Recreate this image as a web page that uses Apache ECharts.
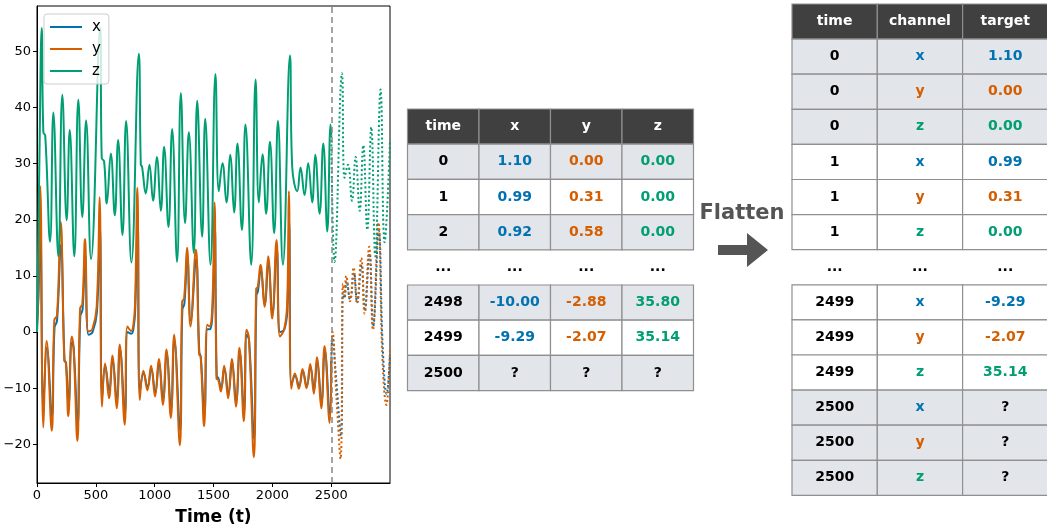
<!DOCTYPE html>
<html>
<head>
<meta charset="utf-8">
<script src="https://cdn.jsdelivr.net/npm/echarts@6/dist/echarts.min.js"></script>
<style>
html, body { margin: 0; padding: 0; background: #fff; }
#main { width: 1047px; height: 531px; }
</style>
</head>
<body>
<div id="main"></div>
<script>
var FONT = 'DejaVu Sans';
var colX = '#0072B2', colY = '#D55E00', colZ = '#009E73';

// series: [time, value]
var xHist = [[0,1.1],[12,6],[28,18],[54,-13],[84,-2.8],[127,-15],[149,0.8],[170,2],[203,15.5],[234,-5],[247,-5.5],[268,-13],[297,-1.8],[312,-3],[345,-16.5],[368,2.8],[387,4],[410,13.8],[438,-0.5],[472,0],[509,3.5],[534,19],[554,-11.5],[580,-6],[614,-10.5],[642,-5],[679,-12],[705,-3],[747,-14.5],[770,0],[802,-0.3],[822,1],[835,4.3],[855,20],[875,-10.5],[906,-7.3],[940,-9.8],[971,-6.5],[1005,-10.8],[1037,-5.5],[1071,-12],[1102,-4],[1139,-13.8],[1167,-1.5],[1215,-17.5],[1235,4],[1252,5],[1277,13.5],[1306,2],[1351,13],[1379,-3.5],[1392,-4.5],[1422,-14.8],[1448,0.5],[1467,0.5],[1492,4],[1510,19],[1527,-7.8],[1542,-8.3],[1564,-10],[1592,-6.5],[1626,-11],[1657,-5.5],[1692,-12.3],[1722,-3.6],[1759,-14.2],[1782,-0.5],[1802,-1.5],[1844,-19],[1864,6.5],[1877,7.3],[1901,11],[1935,5],[1966,12.3],[2000,3.2],[2037,14.8],[2066,0],[2102,0.5],[2127,4],[2142,20],[2162,-9.5],[2193,-7.8],[2227,-9.6],[2258,-7],[2292,-9.6],[2323,-6.2],[2354,-10.3],[2380,-5.2],[2417,-12.4],[2445,-3.3],[2488,-14.6],[2500,-5.5]];
var yHist = [[0,0],[12,8],[28,26],[54,-17],[82,-1.6],[125,-17.6],[147,2.1],[170,3],[201,19.6],[232,-5.1],[245,-5.5],[266,-15],[295,-0.8],[310,-2.5],[343,-19.4],[366,4.2],[385,5],[408,16.6],[436,0.1],[470,0.5],[507,4.5],[532,24],[552,-13.3],[578,-5.6],[612,-11.8],[640,-4.2],[677,-13.6],[703,-2.2],[745,-16.5],[768,1],[800,0.2],[820,1.5],[833,5.1],[853,25.7],[873,-12.1],[904,-6.9],[938,-10.4],[969,-6],[1003,-11.5],[1035,-4.8],[1069,-13],[1100,-3.1],[1137,-15.3],[1165,-0.5],[1213,-20.2],[1233,5.4],[1250,6],[1275,15],[1304,1],[1349,14.7],[1377,-4],[1390,-4.3],[1420,-16.8],[1446,1.3],[1465,1],[1490,5],[1508,23.1],[1525,-8.3],[1540,-8.5],[1562,-10.6],[1590,-6],[1624,-11.8],[1655,-4.8],[1690,-13.3],[1720,-2.8],[1757,-15.9],[1780,0.4],[1800,-1],[1842,-22.3],[1862,7.7],[1875,8],[1899,12],[1933,4.5],[1964,13.5],[1998,2.4],[2035,16.4],[2064,-0.8],[2100,0.5],[2125,5],[2140,25.1],[2160,-10.1],[2191,-7.4],[2225,-10.1],[2256,-6.6],[2290,-10],[2321,-5.7],[2352,-11],[2378,-4.5],[2415,-13.6],[2443,-2.5],[2486,-16.2],[2500,-5]];
var zHist = [[0,0],[20,30],[40,54.2],[54,35.6],[70,35],[111,16.1],[139,39.1],[181,13.5],[215,42.3],[252,19.9],[278,36],[317,13.5],[351,41.4],[385,20.5],[417,37.7],[459,13],[536,54.3],[550,31],[570,30.4],[593,22.9],[627,31.8],[661,20.8],[689,34.2],[726,17.3],[757,37.6],[802,12.4],[865,49.6],[882,29.8],[892,29.5],[924,24.7],[955,29.8],[986,23.4],[1018,31.2],[1052,21.6],[1080,33],[1117,18.7],[1148,36.2],[1190,12.5],[1222,42.6],[1258,19.4],[1290,35.6],[1332,14.1],[1361,41.2],[1403,17],[1429,38],[1474,12],[1516,46],[1545,25.1],[1576,30.1],[1610,23.1],[1641,31.6],[1675,21.3],[1703,33.6],[1741,18.2],[1771,37],[1820,12],[1857,45],[1885,23.1],[1916,31.7],[1947,21.1],[1979,33.9],[2015,17.6],[2047,37.6],[2089,12],[2149,49.3],[2168,29.5],[2211,25.1],[2239,29.3],[2273,24.4],[2304,30.1],[2338,23.1],[2364,31.6],[2401,21.1],[2432,33.6],[2466,17.9],[2494,37],[2500,35]];

// forecast part after t = 2500 (dotted)
var xFore = [[2500,-5.5],[2510,-1],[2540,-8],[2582,-18.5],[2600,7],[2612,6],[2630,9],[2660,5.8],[2693,10.5],[2720,5.3],[2757,12],[2785,3.8],[2825,14],[2856,1],[2903,18],[2938,-3],[2970,-11],[2999,-4]];
var yFore = [[2500,-5],[2510,0],[2545,-12],[2579,-22.6],[2599,8.6],[2612,6.5],[2627,10],[2660,5.5],[2690,11.5],[2718,5.1],[2755,13.2],[2783,3.3],[2822,15.2],[2854,0.4],[2900,19.5],[2935,-5],[2968,-13],[2999,-3]];
var zFore = [[2500,35],[2528,12.5],[2591,46.1],[2613,27.5],[2642,29.8],[2676,23.4],[2707,31.2],[2741,21.6],[2772,33.3],[2806,18.2],[2840,36.5],[2874,13.5],[2919,43.2],[2953,16],[2999,34]];

var valueTicks = [-20, -10, 0, 10, 20, 30, 40, 50];
var timeTicks = [0, 500, 1000, 1500, 2000, 2500];
var cutoff = 2500;

// wide table
var wideHeader = ['time', 'x', 'y', 'z'];
var wideTime = ['0', '1', '2', '...', '2498', '2499', '2500'];
var wideX = ['1.10', '0.99', '0.92', '...', '-10.00', '-9.29', '?'];
var wideY = ['0.00', '0.31', '0.58', '...', '-2.88', '-2.07', '?'];
var wideZ = ['0.00', '0.00', '0.00', '...', '35.80', '35.14', '?'];

// long (flattened) table
var longHeader = ['time', 'channel', 'target'];
var longTime = ['0', '0', '0', '1', '1', '1', '...', '2499', '2499', '2499', '2500', '2500', '2500'];
var longChannel = ['x', 'y', 'z', 'x', 'y', 'z', '...', 'x', 'y', 'z', 'x', 'y', 'z'];
var longTarget = ['1.10', '0.00', '0.00', '0.99', '0.31', '0.00', '...', '-9.29', '-2.07', '35.14', '?', '?', '?'];

var chanColor = { x: colX, y: colY, z: colZ };
var GRAY = '#e2e5ea', HEAD = '#404040', LINE = '#8f8f8f';

function cellRect(x, y, w, h, fill) {
  return { type: 'rect', silent: true, shape: { x: x, y: y, width: w, height: h },
    style: { fill: fill, stroke: LINE, lineWidth: 1.2 } };
}
function cellText(cx, cy, txt, color) {
  return { type: 'text', silent: true, z: 10,
    style: { x: cx, y: cy, text: txt, fill: color, align: 'center', verticalAlign: 'middle',
      font: 'bold 14px "' + FONT + '"' } };
}

function buildTable(left, top, colW, rowH, header, cols, colorFns) {
  var els = [];
  header.forEach(function (h, c) {
    els.push(cellRect(left + c * colW, top, colW, rowH, HEAD));
    els.push(cellText(left + c * colW + colW / 2, top + rowH / 2, h, '#fff'));
  });
  var n = cols[0].length;
  for (var r = 0; r < n; r++) {
    var y = top + (r + 1) * rowH;
    var t = cols[0][r];
    var isDots = t === '...';
    var fill = (parseInt(t, 10) % 2 === 0) ? GRAY : '#fff';
    for (var c = 0; c < cols.length; c++) {
      var x = left + c * colW;
      if (!isDots) els.push(cellRect(x, y, colW, rowH, fill));
      els.push(cellText(x + colW / 2, y + rowH / 2, cols[c][r], isDots ? '#000' : colorFns[c](r)));
    }
  }
  return els;
}

var graphics = [];
graphics = graphics.concat(buildTable(407.5, 109, 71.5, 35.2, wideHeader,
  [wideTime, wideX, wideY, wideZ],
  [function () { return '#000'; },
   function (r) { return wideX[r] === '?' ? '#000' : colX; },
   function (r) { return wideY[r] === '?' ? '#000' : colY; },
   function (r) { return wideZ[r] === '?' ? '#000' : colZ; }]));
graphics = graphics.concat(buildTable(792, 4, 85.3, 35.1, longHeader,
  [longTime, longChannel, longTarget],
  [function () { return '#000'; },
   function (r) { return chanColor[longChannel[r]]; },
   function (r) { return longTarget[r] === '?' ? '#000' : chanColor[longChannel[r]]; }]));

// arrow + label
graphics.push({ type: 'text', silent: true,
  style: { x: 742, y: 214, text: 'Flatten', fill: '#555', align: 'center', verticalAlign: 'middle',
    font: 'bold 21px "' + FONT + '"' } });
graphics.push({ type: 'polygon', silent: true,
  shape: { points: [[718, 245], [747, 245], [747, 233], [768, 250], [747, 267], [747, 255], [718, 255]] },
  style: { fill: '#555' } });

var myChart = echarts.init(document.getElementById('main'));

var option = {
  animation: false,
  backgroundColor: '#fff',
  grid: { left: 37, top: 6, width: 353, height: 487, show: true, borderColor: '#000', borderWidth: 1 },
  legend: {
    data: ['x', 'y', 'z'],
    orient: 'vertical', left: 44, top: 14,
    icon: 'rect', itemWidth: 32, itemHeight: 2, itemGap: 6,
    padding: [5, 8, 5, 6],
    backgroundColor: 'rgba(255,255,255,0.8)', borderColor: '#ccc', borderWidth: 1, borderRadius: 3,
    textStyle: { fontFamily: FONT, fontSize: 15, color: '#000', lineHeight: 16, padding: [0, 0, 0, 5] }
  },
  xAxis: {
    type: 'value', min: 0, max: 2999, interval: 500,
    name: 'Time (t)', nameLocation: 'middle', nameGap: 26,
    nameTextStyle: { fontFamily: FONT, fontSize: 17, fontWeight: 'bold', color: '#000' },
    axisLine: { show: true, onZero: false, lineStyle: { color: '#000', width: 1 } },
    axisTick: { show: true, length: 4, lineStyle: { color: '#000' }, customValues: timeTicks },
    axisLabel: { fontFamily: FONT, fontSize: 13, color: '#000', margin: 6, customValues: timeTicks,
      formatter: function (v) { return String(v); } },
    splitLine: { show: false }
  },
  yAxis: {
    type: 'value', min: -26.9, max: 58.1,
    axisLine: { show: true, onZero: false, lineStyle: { color: '#000', width: 1 } },
    axisTick: { show: true, length: 4, lineStyle: { color: '#000' }, customValues: valueTicks },
    axisLabel: { fontFamily: FONT, fontSize: 13, color: '#000', margin: 6, customValues: valueTicks,
      formatter: function (v) { return String(v).replace('-', '\u2212'); } },
    splitLine: { show: false }
  },
  series: [
    { name: 'x', type: 'line', data: xHist, showSymbol: false, smooth: 0.45, color: colX,
      lineStyle: { width: 2, color: colX } },
    { name: 'y', type: 'line', data: yHist, showSymbol: false, smooth: 0.45, color: colY,
      lineStyle: { width: 2, color: colY } },
    { name: 'z', type: 'line', data: zHist, showSymbol: false, smooth: 0.45, color: colZ,
      lineStyle: { width: 2, color: colZ },
      markLine: { silent: true, symbol: 'none', label: { show: false },
        lineStyle: { type: [6, 4], color: '#888', width: 1.5 },
        data: [{ xAxis: cutoff }] } },
    { name: 'x forecast', type: 'line', data: xFore, showSymbol: false, smooth: 0.45, color: colX,
      lineStyle: { width: 2, color: colX, type: [2, 2.5] } },
    { name: 'y forecast', type: 'line', data: yFore, showSymbol: false, smooth: 0.45, color: colY,
      lineStyle: { width: 2, color: colY, type: [2, 2.5] } },
    { name: 'z forecast', type: 'line', data: zFore, showSymbol: false, smooth: 0.45, color: colZ,
      lineStyle: { width: 2, color: colZ, type: [2, 2.5] } }
  ],
  graphic: graphics
};

myChart.setOption(option);
</script>
</body>
</html>
